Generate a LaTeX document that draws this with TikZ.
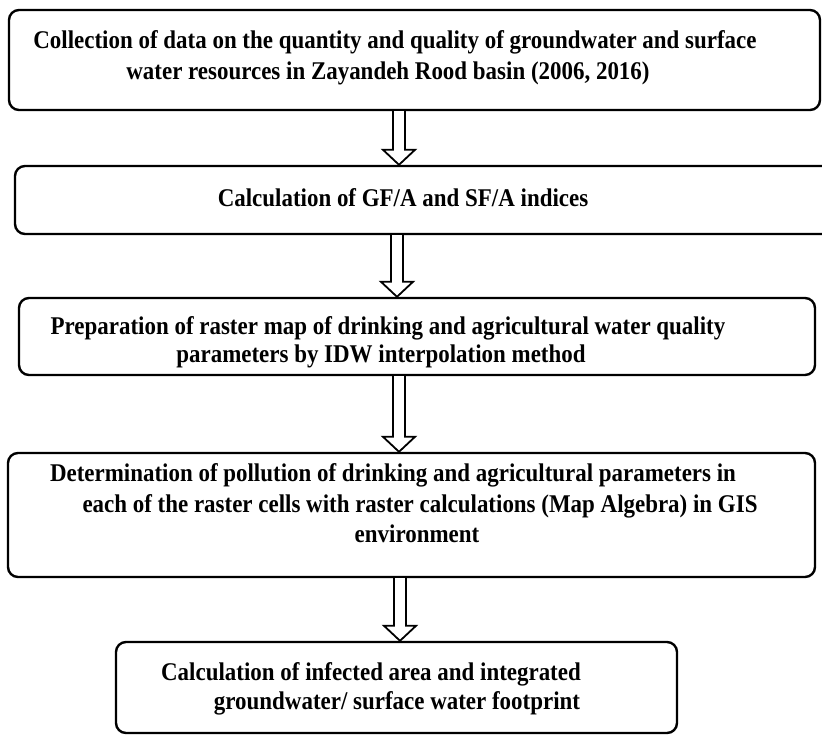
\documentclass[tikz,border=0pt]{standalone}
\usepackage{fontspec}
\newfontfamily\boxfont{Liberation Serif}[FakeStretch=0.90]
\usetikzlibrary{calc}
\tikzset{
  stepbox/.style={draw=black, line width=2.4pt, rounded corners=10pt, inner sep=0pt, fill=none},
  lbl/.style={anchor=base, inner sep=0pt, font=\boxfont\bfseries\fontsize{25.5}{30}\selectfont},
  fatarr/.style={draw=black, line width=1.8pt, fill=white, line join=miter}
}
\newcommand{\hollowarrow}[3]{%
  \draw[fatarr] let \p1=(#1.south), \p2=(#2.north) in
    ({#3pt-6pt},\y1) -- ({#3pt-6pt},{\y2+15pt}) -- ({#3pt-16pt},{\y2+15pt}) --
    (#3pt,\y2) -- ({#3pt+16pt},{\y2+15pt}) -- ({#3pt+6pt},{\y2+15pt}) --
    ({#3pt+6pt},\y1);}
\begin{document}
\begin{tikzpicture}[x=1pt,y=1pt]
\useasboundingbox (0,0) rectangle (822,-734);
\clip (0,0) rectangle (822,-734);
\fill[white] (0,0) rectangle (822,-734);
% boxes
\node[stepbox, minimum width=811pt, minimum height=100pt] (b1) at (414.5,-60) {};
\node[stepbox, minimum width=820pt, minimum height=68pt] (b2) at (425,-200) {};
\node[stepbox, minimum width=796pt, minimum height=77pt] (b3) at (417,-336.5) {};
\node[stepbox, minimum width=807pt, minimum height=124pt] (b4) at (411.5,-515) {};
\node[stepbox, minimum width=561pt, minimum height=91pt] (b5) at (396.5,-687.5) {};
% texts
\node[lbl] (t1a) at (395,-48) {Collection of data on the quantity and quality of groundwater and surface};
\node[lbl] (t1b) at (388,-79) {water resources in Zayandeh Rood basin (2006, 2016)};
\node[lbl] (t2) at (403,-206) {Calculation of GF/A and SF/A indices};
\node[lbl] (t3a) at (388,-334) {Preparation of raster map of drinking and agricultural water quality};
\node[lbl] (t3b) at (381,-362) {parameters by IDW interpolation method};
\node[lbl] (t4a) at (393,-481) {Determination of pollution of drinking and agricultural parameters in};
\node[lbl] (t4b) at (420,-512) {each of the raster cells with raster calculations (Map Algebra) in GIS};
\node[lbl] (t4c) at (417,-542) {environment};
\node[lbl] (t5a) at (371,-680) {Calculation of infected area and integrated};
\node[lbl] (t5b) at (397,-709) {groundwater/ surface water footprint};
% arrows
\hollowarrow{b1}{b2}{399}
\hollowarrow{b2}{b3}{397}
\hollowarrow{b3}{b4}{399}
\hollowarrow{b4}{b5}{400}
\end{tikzpicture}
\end{document}
